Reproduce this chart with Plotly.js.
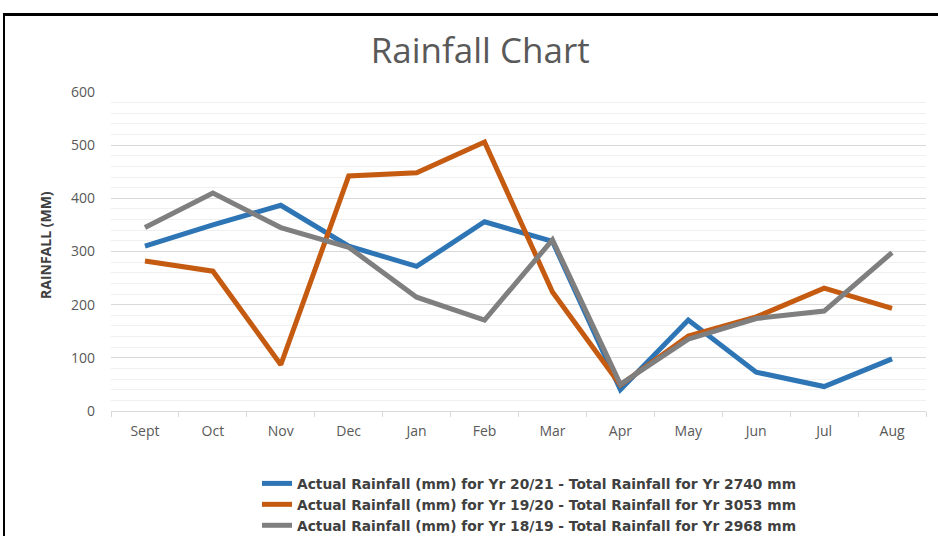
<!DOCTYPE html>
<html>
<head>
<meta charset="utf-8">
<script src="https://cdn.plot.ly/plotly-3.0.1.min.js"></script>
<style>
html,body{margin:0;padding:0;background:#fff;}
#wrap{position:relative;width:938px;height:536px;overflow:hidden;}
#chart{width:938px;height:536px;}
#frame{position:absolute;left:3px;top:13px;width:940px;height:540px;border-left:2px solid #000;border-top:3px solid #000;pointer-events:none;}
</style>
</head>
<body>
<div id="wrap"><div id="chart"></div><div id="frame"></div></div>
<script>
const months = ["Sept","Oct","Nov","Dec","Jan","Feb","Mar","Apr","May","Jun","Jul","Aug"];
const rain2021 = [310, 350, 387, 310, 272, 356, 319, 40, 171, 73, 46, 98];
const rain1920 = [282, 263, 87, 442, 448, 506, 224, 49, 141, 177, 231, 193];
const rain1819 = [345, 410, 345, 308, 214, 171, 322, 50, 135, 174, 188, 298];
const seriesNames = [
  "Actual Rainfall (mm) for Yr 20/21 - Total Rainfall for Yr 2740 mm",
  "Actual Rainfall (mm) for Yr 19/20 - Total Rainfall for Yr 3053 mm",
  "Actual Rainfall (mm) for Yr 18/19 - Total Rainfall for Yr 2968 mm"
];
const colors = ["#2E75B6", "#C55A11", "#7F7F7F"];
const yTicks = [0, 100, 200, 300, 400, 500, 600];
const yTitle = "RAINFALL (MM)";

const series = [rain2021, rain1920, rain1819];
const traces = series.map((vals, i) => ({
  x: months, y: vals, type: "scatter", mode: "lines",
  name: seriesNames[i],
  line: {color: colors[i], width: 5}
}));

const layout = {
  width: 938, height: 536,
  margin: {l: 111, r: 12, t: 92, b: 125, autoexpand: false},
  paper_bgcolor: "#fff", plot_bgcolor: "#fff",
  title: {text: "Rainfall Chart", x: 0.512, xref: "container", y: 0.905, yref: "container", yanchor: "middle",
          font: {family: "Open Sans", size: 35, color: "#595959"}},
  font: {family: "Open Sans", color: "#595959"},
  xaxis: {
    type: "category", range: [-0.5, 11.5], fixedrange: true, automargin: false,
    tickson: "boundaries", ticks: "outside", ticklen: 5, tickcolor: "#d9d9d9",
    showline: true, linecolor: "#d9d9d9", linewidth: 1, tickangle: 0,
    ticklabelstandoff: 7,
    showgrid: false, zeroline: false,
    tickfont: {family: "Open Sans", size: 14, color: "#595959"}
  },
  yaxis: {
    range: [0, 600], tickvals: yTicks, ticktext: yTicks.map(String), automargin: false,
    showgrid: true, gridcolor: "#d9d9d9", gridwidth: 1,
    minor: {dtick: 20, showgrid: true, gridcolor: "#f0f0f0", gridwidth: 1},
    zeroline: false, showline: false, ticks: "",
    ticklabelstandoff: 15,
    tickfont: {family: "Open Sans", size: 14, color: "#595959"}
  },
  annotations: [{
    text: yTitle, textangle: -90, showarrow: false,
    xref: "paper", yref: "paper", x: (46 - 111) / 815, y: (411 - 245) / 319,
    xanchor: "center", yanchor: "middle",
    font: {family: "Open Sans", size: 14, color: "#404040", weight: "bold"}
  }],
  showlegend: true,
  legend: {
    orientation: "v", xref: "container", yref: "container",
    x: 0.274, xanchor: "left", y: 0.127, yanchor: "top",
    font: {family: "DejaVu Sans", size: 13.8, color: "#404040", weight: "bold"},
    bgcolor: "rgba(0,0,0,0)"
  }
};

Plotly.newPlot("chart", traces, layout, {displayModeBar: false, staticPlot: true});
</script>
</body>
</html>
